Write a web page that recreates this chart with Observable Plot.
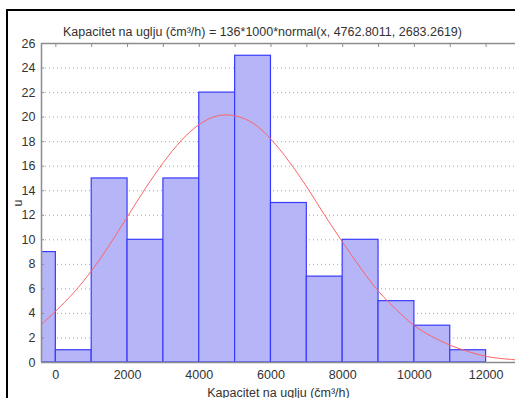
<!DOCTYPE html>
<html>
<head>
<meta charset="utf-8">
<script src="https://cdn.jsdelivr.net/npm/d3@7"></script>
<script src="https://cdn.jsdelivr.net/npm/@observablehq/plot@0.6"></script>
<style>
  html, body { margin: 0; padding: 0; background: #fff; overflow: hidden; }
  #wrap { position: relative; width: 515px; height: 398px; }
  #frame { position: absolute; left: 6px; top: 9px; width: 600px; height: 400px;
           border-top: 2px solid #000; border-left: 2px solid #000; pointer-events: none; }
</style>
</head>
<body>
<div id="wrap"><div id="frame"></div></div>
<script>
// Histogram bins (lower edge, upper edge) and counts
const binStart = [-1000, 0, 1000, 2000, 3000, 4000, 5000, 6000, 7000, 8000, 9000, 10000, 11000];
const binEnd   = [0, 1000, 2000, 3000, 4000, 5000, 6000, 7000, 8000, 9000, 10000, 11000, 12000];
const counts   = [9, 1, 15, 10, 15, 22, 25, 13, 7, 10, 5, 3, 1];

// Fitted normal curve
const curveX = [-400, 0, 500, 1000, 1500, 2000, 2500, 3000, 3500, 4000, 4500, 5000, 5500, 6000, 6500,
                7000, 7500, 8000, 8500, 9000, 9500, 10000, 10500, 11000, 11500, 12000, 12500, 12900];
const curveY = [3.1, 4.2, 5.7, 7.5, 9.6, 11.9, 14.2, 16.3, 18.1, 19.4, 20.1, 20.1, 19.5, 18.2, 16.4,
                14.3, 12.0, 9.8, 7.7, 5.8, 4.3, 3.0, 2.1, 1.4, 0.9, 0.5, 0.3, 0.2];

// Tick labels
const xTicks = [0, 2000, 4000, 6000, 8000, 10000, 12000];
const xMinorTicks = [0, 1000, 2000, 3000, 4000, 5000, 6000, 7000, 8000, 9000, 10000, 11000, 12000];
const yTicks = [0, 2, 4, 6, 8, 10, 12, 14, 16, 18, 20, 22, 24, 26];
const gridTicks = [2, 4, 6, 8, 10, 12, 14, 16, 18, 20, 22, 24];

const titleText = "Kapacitet na uglju (čm³/h) = 136*1000*normal(x, 4762.8011, 2683.2619)";
const xLabel = "Kapacitet na uglju (čm³/h)";
const yLabel = "u";

const bins = binStart.map((s, i) => ({x1: s, x2: binEnd[i], y: counts[i]}));
const curve = curveX.map((x, i) => ({x, y: curveY[i]}));

const grey = "#8c8c8c";
const chart = Plot.plot({
  width: 515,
  height: 398,
  marginLeft: 41,
  marginTop: 43,
  marginBottom: 36,
  marginRight: 0,
  style: {fontFamily: "'Liberation Sans', Arial, sans-serif", fontSize: "12.5px", color: "#333", background: "transparent"},
  x: {domain: [-400, 12820]},
  y: {domain: [0, 26]},
  marks: [
    Plot.gridY(gridTicks, {stroke: "#a8a8a8", strokeOpacity: 1, strokeDasharray: "1,3"}),
    Plot.rectY(bins, {x1: "x1", x2: "x2", y: "y", fill: "#b5b5f7", stroke: "#3a3aff", strokeWidth: 1.2, clip: true}),
    Plot.line(curve, {x: "x", y: "y", stroke: "#ff6464", strokeWidth: 1, curve: "natural", clip: true}),
    Plot.ruleY([0], {stroke: grey, strokeWidth: 1.5}),
    Plot.ruleY([26], {stroke: grey, strokeWidth: 1.5}),
    Plot.ruleX([-400], {stroke: grey, strokeWidth: 1.5}),
    Plot.axisX(xTicks, {anchor: "bottom", tickSize: 0, tickPadding: 8, fill: "#333", tickFormat: d => String(d),
      label: xLabel, labelAnchor: "center", labelOffset: 34, labelArrow: "none"}),
    Plot.axisX(xMinorTicks, {anchor: "top", tickSize: -3, tickFormat: () => "", label: null, stroke: grey}),
    Plot.axisY(yTicks, {anchor: "left", tickSize: -3, tickPadding: 9, fill: "#333", stroke: grey,
      label: yLabel, labelAnchor: "center", labelOffset: 28, labelArrow: "none"}),
    Plot.text([titleText], {frameAnchor: "top", dy: -16, dx: -16, fill: "#333", fontSize: 12.5})
  ]
});
document.getElementById("wrap").prepend(chart);
</script>
</body>
</html>
